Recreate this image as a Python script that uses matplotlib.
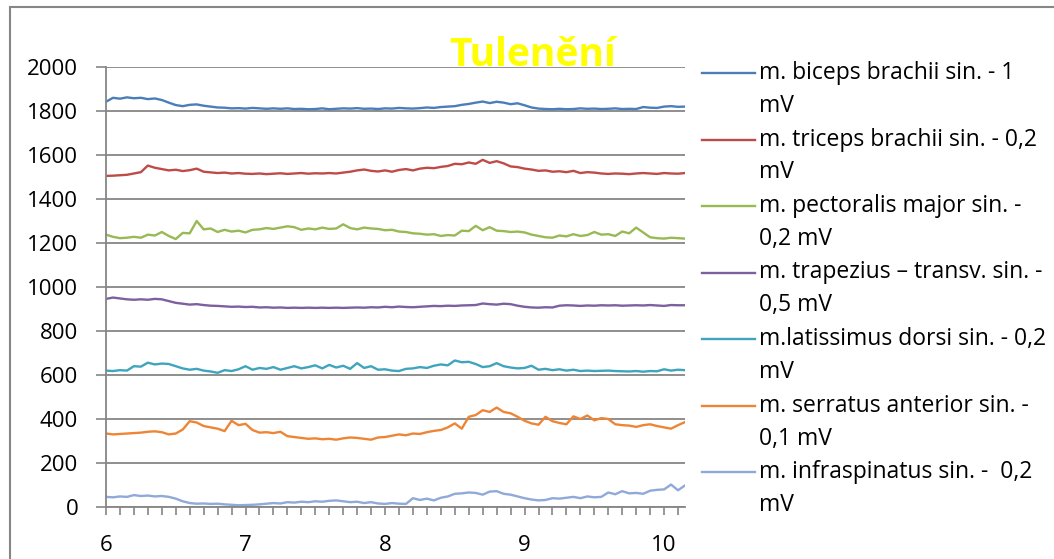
import numpy as np
import matplotlib
matplotlib.use("Agg")
import matplotlib.pyplot as plt
from matplotlib.lines import Line2D
from matplotlib.patches import Rectangle

plt.rcParams['font.family'] = ['Open Sans', 'DejaVu Sans']

# time axis (s), one sample every 0.05
t = np.round(np.arange(6.0, 10.151, 0.05), 2)

biceps = [1842, 1860, 1856, 1862, 1858, 1860, 1854, 1857, 1850, 1838,
          1827, 1822, 1828, 1830, 1824, 1820, 1816, 1815, 1812, 1813,
          1811, 1814, 1812, 1810, 1812, 1810, 1812, 1809, 1810, 1808,
          1809, 1812, 1808, 1810, 1812, 1811, 1813, 1810, 1811, 1809,
          1812, 1811, 1814, 1812, 1811, 1813, 1816, 1814, 1818, 1820,
          1822, 1828, 1832, 1838, 1843, 1836, 1842, 1838, 1831, 1835,
          1826, 1816, 1811, 1809, 1808, 1810, 1808, 1809, 1812, 1810,
          1811, 1809, 1810, 1812, 1809, 1810, 1809, 1818, 1815, 1814,
          1820, 1822, 1819, 1820]

triceps = [1505, 1506, 1508, 1510, 1516, 1522, 1552, 1542, 1536, 1530,
           1533, 1527, 1531, 1538, 1524, 1521, 1518, 1520, 1516, 1518,
           1515, 1514, 1516, 1513, 1515, 1517, 1514, 1516, 1518, 1515,
           1517, 1516, 1518, 1516, 1520, 1524, 1530, 1534, 1528, 1525,
           1530, 1524, 1532, 1536, 1530, 1538, 1542, 1540, 1546, 1550,
           1560, 1558, 1566, 1560, 1578, 1564, 1572, 1562, 1548, 1545,
           1538, 1534, 1528, 1530, 1524, 1526, 1522, 1528, 1518, 1522,
           1520, 1516, 1514, 1516, 1515, 1513, 1516, 1518, 1516, 1514,
           1518, 1516, 1515, 1518]

pectoralis = [1238, 1228, 1222, 1224, 1228, 1224, 1238, 1234, 1250, 1232,
              1218, 1246, 1244, 1300, 1262, 1266, 1250, 1260, 1252, 1256,
              1248, 1260, 1262, 1268, 1264, 1270, 1276, 1272, 1260, 1266,
              1262, 1270, 1264, 1266, 1285, 1268, 1262, 1270, 1266, 1264,
              1258, 1260, 1252, 1250, 1244, 1242, 1238, 1240, 1232, 1236,
              1234, 1256, 1254, 1278, 1258, 1272, 1256, 1254, 1250, 1252,
              1248, 1238, 1232, 1226, 1224, 1234, 1230, 1240, 1232, 1236,
              1250, 1238, 1240, 1232, 1252, 1244, 1270, 1248, 1226, 1222,
              1220, 1224, 1222, 1220]

trapezius = [946, 952, 948, 944, 942, 944, 942, 946, 944, 936,
             928, 924, 920, 922, 918, 915, 914, 912, 910, 911,
             909, 910, 907, 908, 906, 907, 905, 906, 905, 906,
             905, 906, 905, 906, 905, 906, 907, 906, 908, 907,
             910, 908, 911, 909, 908, 910, 912, 914, 913, 915,
             914, 916, 917, 918, 925, 922, 920, 924, 922, 915,
             910, 907, 906, 908, 907, 915, 917, 916, 914, 916,
             915, 917, 916, 917, 915, 916, 917, 916, 918, 916,
             914, 918, 917, 917]

latissimus = [620, 618, 622, 620, 640, 638, 656, 648, 652, 650,
              640, 630, 624, 628, 620, 616, 610, 622, 618, 626,
              640, 624, 632, 628, 636, 624, 632, 640, 630, 636,
              644, 630, 646, 634, 642, 628, 654, 632, 640, 624,
              626, 620, 618, 628, 630, 636, 632, 642, 648, 644,
              666, 658, 660, 650, 636, 640, 654, 640, 634, 630,
              632, 642, 624, 628, 622, 626, 620, 624, 618, 620,
              618, 619, 620, 618, 617, 616, 618, 615, 618, 617,
              626, 620, 624, 622]

serratus = [334, 330, 332, 334, 336, 338, 342, 344, 340, 330,
            334, 352, 390, 384, 368, 362, 356, 345, 392, 372,
            378, 350, 338, 340, 336, 342, 322, 318, 314, 310,
            312, 308, 310, 306, 312, 316, 314, 310, 306, 316,
            318, 324, 330, 326, 334, 332, 340, 346, 350, 362,
            380, 356, 410, 418, 440, 432, 452, 432, 426, 410,
            392, 380, 374, 410, 390, 382, 376, 412, 400, 416,
            394, 404, 400, 376, 372, 370, 364, 372, 376, 368,
            362, 356, 372, 386]

infraspinatus = [46, 44, 48, 46, 54, 50, 52, 48, 50, 46,
                 38, 26, 18, 15, 16, 14, 15, 12, 10, 8,
                 9, 10, 12, 15, 18, 16, 22, 20, 24, 22,
                 26, 24, 28, 30, 26, 22, 24, 18, 22, 16,
                 14, 18, 15, 14, 40, 32, 38, 30, 42, 48,
                 60, 62, 66, 64, 56, 70, 72, 60, 56, 48,
                 40, 34, 30, 32, 40, 38, 42, 46, 40, 48,
                 44, 46, 66, 58, 72, 62, 64, 60, 74, 78,
                 80, 102, 76, 98]

labels = ["m. biceps brachii sin. - 1\nmV",
          "m. triceps brachii sin. - 0,2\nmV",
          "m. pectoralis major sin. -\n0,2 mV",
          "m. trapezius \u2013 transv. sin. -\n0,5 mV",
          "m.latissimus dorsi sin. - 0,2\nmV",
          "m. serratus anterior sin. -\n0,1 mV",
          "m. infraspinatus sin. -  0,2\nmV"]
series = [biceps, triceps, pectoralis, trapezius, latissimus, serratus, infraspinatus]
colors = ["#4A7EBB", "#BE4B48", "#98B954", "#7D60A0", "#3FA4BE", "#EE8535", "#8FA9D8"]

W, H = 1054, 559
fig = plt.figure(figsize=(W / 100, H / 100), dpi=100)
ax = fig.add_axes([106 / W, 1 - 507 / H, (685 - 106) / W, (507 - 67) / H])

for y, c in zip(series, colors):
    ax.plot(t, y, color=c, lw=1.7)

grey = "#868686"
ax.set_xlim(6, 10.15)
ax.set_ylim(0, 2000)
ax.set_yticks(range(0, 2001, 200))
ax.set_xticks([6, 7, 8, 9, 10])
ax.set_xticks(np.arange(6, 10.15, 0.1), minor=True)
ax.grid(axis="y", color=grey, lw=1.3)
ax.set_axisbelow(True)
for s in ["top", "right"]:
    ax.spines[s].set_visible(False)
for s in ["left", "bottom"]:
    ax.spines[s].set_color(grey)
    ax.spines[s].set_linewidth(1.3)
ax.tick_params(axis="y", length=7, width=1.2, color=grey, pad=13, labelsize=16)
ax.tick_params(axis="x", which="both", length=6, width=1.2, color=grey, pad=14, labelsize=16)

# title
fig.text(533 / W, 1 - 55 / H, "Tulenění", color="#FFFF00", fontsize=28,
         fontweight="bold", ha="center", va="center")

# legend, drawn by hand so the line sits on the first text row
for i, (lab, c) in enumerate(zip(labels, colors)):
    yy = 1 - (73 + 66.5 * i) / H
    fig.add_artist(Line2D([702 / W, 755 / W], [yy, yy], color=c, lw=1.7))
    first, second = lab.split("\n")
    fig.text(759 / W, yy, first, fontsize=16.5, va="center", ha="left")
    fig.text(759 / W, yy - 33 / H, second, fontsize=16.5, va="center", ha="left")

# chart border
fig.add_artist(Rectangle((10 / W, -0.05), 1.1, 1 - 7 / H + 0.05, transform=fig.transFigure,
                         fill=False, edgecolor=grey, lw=1.5))

fig.savefig("out.png", dpi=100)
